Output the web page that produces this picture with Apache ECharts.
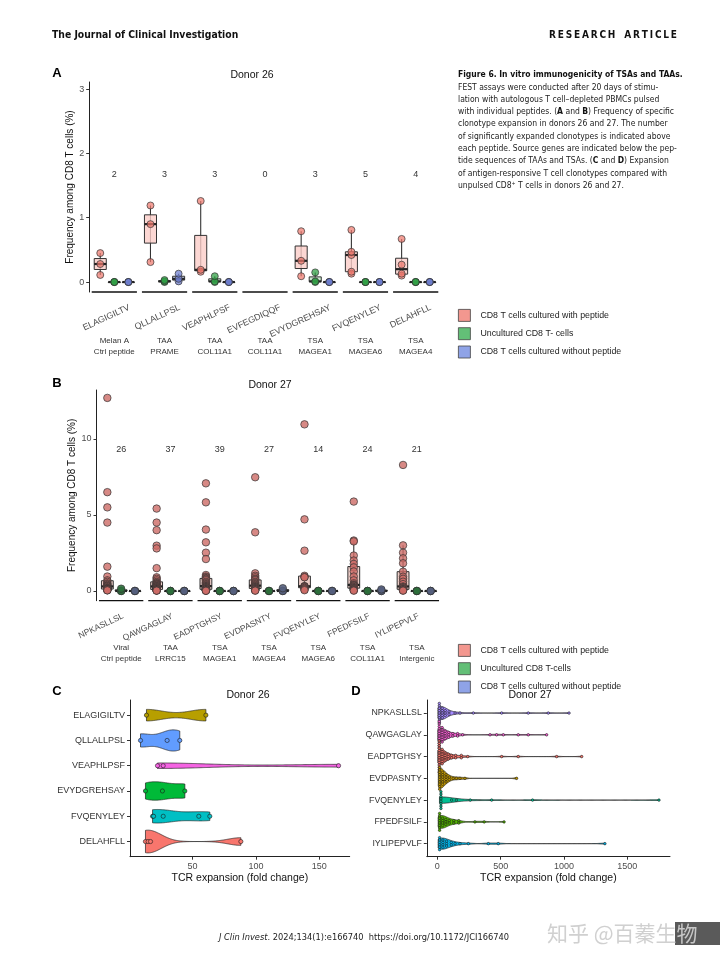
<!DOCTYPE html>
<html><head><meta charset="utf-8">
<script src="https://cdn.jsdelivr.net/npm/echarts@6/dist/echarts.min.js"></script>
<style>html,body{margin:0;padding:0;background:#fff}#c{width:720px;height:964px}</style>
</head><body><div id="c"></div>
<script>
// ===================== DATA =====================
// Panel A (Donor 26)
const peptidesA = ['ELAGIGILTV','QLLALLPSL','VEAPHLPSF','EVFEGDIQQF','EVYDGREHSAY','FVQENYLEY','DELAHFLL'];
const genesA = ['Melan A\nCtrl peptide','TAA\nPRAME','TAA\nCOL11A1','TAA\nCOL11A1','TSA\nMAGEA1','TSA\nMAGEA6','TSA\nMAGEA4'];
const countsA = [2,3,3,0,3,5,4];
const withPeptideA = [[0.11,0.28,0.45],[0.31,0.90,1.19],[0.16,0.19,1.26],[],[0.09,0.33,0.79],[0.13,0.16,0.42,0.47,0.81],[0.10,0.13,0.27,0.67]];
const unculturedA = [[0,0,0],[0,0.01,0.03],[0,0.01,0.09],[],[0,0.01,0.15],[0,0,0],[0,0,0]];
const withoutPeptideA = [[0,0,0],[0.01,0.05,0.13],[0,0,0],[],[0,0,0],[0,0,0],[0,0,0]];
const yTicksA = [0,1,2,3];

// Panel B (Donor 27)
const peptidesB = ['NPKASLLSL','QAWGAGLAY','EADPTGHSY','EVDPASNTY','FVQENYLEY','FPEDFSILF','IYLIPEPVLF'];
const genesB = ['Viral\nCtrl peptide','TAA\nLRRC15','TSA\nMAGEA1','TSA\nMAGEA4','TSA\nMAGEA6','TSA\nCOL11A1','TSA\nIntergenic'];
const countsB = [26,37,39,27,14,24,21];
const withPeptideB = [
  [12.7,6.5,5.5,4.5,1.6,0.95,0.7,0.6,0.5,0.45,0.4,0.35,0.3,0.3,0.25,0.2,0.2,0.15,0.15,0.12,0.1,0.1,0.08,0.06,0.05,0.04],
  [5.42,4.5,4.0,2.98,2.8,1.5,0.9,0.8,0.7,0.6,0.55,0.5,0.48,0.45,0.42,0.4,0.36,0.33,0.3,0.28,0.25,0.22,0.2,0.18,0.16,0.14,0.12,0.1,0.09,0.08,0.07,0.06,0.05,0.05,0.04,0.03,0.02],
  [7.08,5.83,4.04,3.2,2.52,2.1,1.05,0.95,0.9,0.85,0.8,0.75,0.7,0.6,0.55,0.5,0.45,0.4,0.35,0.32,0.3,0.27,0.25,0.22,0.2,0.18,0.16,0.14,0.12,0.1,0.09,0.08,0.07,0.06,0.05,0.04,0.03,0.02,0.01],
  [7.48,3.86,1.16,1.0,0.9,0.8,0.75,0.7,0.6,0.55,0.5,0.45,0.4,0.35,0.3,0.28,0.25,0.22,0.2,0.18,0.15,0.12,0.1,0.08,0.06,0.04,0.02],
  [10.96,4.71,2.65,1.0,0.92,0.9,0.32,0.3,0.28,0.25,0.2,0.15,0.1,0.05],
  [5.88,3.32,3.26,2.33,2.0,1.78,1.55,1.28,0.95,0.7,0.5,0.42,0.38,0.35,0.3,0.26,0.22,0.19,0.17,0.14,0.1,0.08,0.05,0.02],
  [8.29,3.0,2.52,2.15,1.82,1.27,0.94,0.8,0.61,0.45,0.3,0.25,0.22,0.18,0.14,0.11,0.1,0.08,0.06,0.04,0.02]
];
const unculturedB = [[0,0,0.15],[0,0,0],[0,0,0],[0,0,0],[0,0,0],[0,0,0],[0,0,0]];
const withoutPeptideB = [[0,0,0],[0,0,0],[0,0,0],[0,0,0.18],[0,0,0],[0,0,0.1],[0,0,0]];
const yTicksB = [0,5,10];

const legendNamesA = ['CD8 T cells cultured with peptide','Uncultured CD8 T- cells','CD8 T cells cultured without peptide'];
const legendNamesB = ['CD8 T cells cultured with peptide','Uncultured CD8 T-cells','CD8 T cells cultured without peptide'];

// Panel C (Donor 26) TCR expansion fold change
const peptidesC = ['ELAGIGILTV','QLLALLPSL','VEAPHLPSF','EVYDGREHSAY','FVQENYLEY','DELAHFLL'];
const foldC = [[13.6,60.5],[8.9,29.9,39.9],[22.3,26.8,165.2],[12.8,26.2,43.9],[18.4,19.2,26.8,54.9,63.6],[12.8,14.9,16.8,88.1]];
const xTicksC = [50,100,150];

// Panel D (Donor 27)
const peptidesD = ['NPKASLLSL','QAWGAGLAY','EADPTGHSY','EVDPASNTY','FVQENYLEY','FPEDFSILF','IYLIPEPVLF'];
const foldD = [
  [1040,876,718,508,284,179,140,100,85,70,62,55,48,42,38,34,30,27,24,21,18,15,12,10,8,5],
  [863,718,639,521,468,416,200,170,150,130,115,100,90,80,72,65,58,52,48,44,40,36,33,30,28,26,24,22,20,18,16,14,12,10,8,6,4],
  [1140,942,639,508,240,200,179,150,139,120,105,95,85,78,70,64,58,53,48,44,40,37,34,31,28,26,24,22,20,18,16,14,12,11,10,8,7,5,4],
  [626,218,179,150,125,100,90,80,72,65,58,52,47,43,39,35,32,29,26,23,20,18,16,14,12,10,8],
  [1750,752,429,260,150,113,40,30,27,25,23,21,19,17],
  [527,370,297,179,160,140,120,100,88,76,66,58,50,44,38,33,29,25,22,19,16,13,10,7],
  [1323,481,403,245,179,140,120,100,85,72,62,54,47,40,34,29,24,19,15,11,7]
];
const xTicksD = [0,500,1000,1500];

// ===================== STYLE =====================
const FONT = "'Liberation Sans', Arial, sans-serif";
const COND = "'DejaVu Sans Condensed', sans-serif";
const legendFills = ['rgba(240,125,115,0.8)','rgba(60,175,85,0.8)','rgba(115,140,225,0.8)'];
const ptFillsA = ['rgba(238,120,110,0.72)','rgba(50,160,70,0.75)','rgba(110,125,205,0.75)'];
const ptFillsB = ['rgba(205,108,102,0.8)','rgba(45,110,60,0.9)','rgba(85,95,125,0.9)'];
const boxFillsA = ['rgba(251,205,200,0.8)','rgba(190,230,195,0.85)','rgba(200,210,245,0.85)'];
const boxFillsB = ['rgba(225,170,160,0.6)','rgba(190,230,195,0.85)','rgba(200,210,245,0.85)'];
const offs = [-0.28, 0, 0.28];
const BOXW = 0.24;
const colorsC = ['#B79F00','#619CFF','#F564E3','#00BA38','#00BFC4','#F8766D'];
const colorsD = ['#A58AFF','#FB61D7','#F8766D','#C49A00','#00C094','#53B400','#00B6EB'];

// ===================== HELPERS =====================
function quantile(s, p){ const h=(s.length-1)*p, lo=Math.floor(h), hi=Math.ceil(h); return s[lo]+(h-lo)*(s[hi]-s[lo]); }
function boxStats(arr){
  if(!arr.length) return null;
  const s=[...arr].sort((a,b)=>a-b);
  const q1=quantile(s,.25), md=quantile(s,.5), q3=quantile(s,.75), iqr=q3-q1;
  const lo=s.find(v=>v>=q1-1.5*iqr), hi=[...s].reverse().find(v=>v<=q3+1.5*iqr);
  return [lo,q1,md,q3,hi];
}
function bwNrd0(x){
  const n=x.length, m=x.reduce((a,b)=>a+b,0)/n;
  const sd=Math.sqrt(x.reduce((a,b)=>a+(b-m)*(b-m),0)/(n-1));
  const s=[...x].sort((a,b)=>a-b);
  const iqr=quantile(s,.75)-quantile(s,.25);
  let lo=Math.min(sd, iqr/1.34); if(!(lo>0)) lo=sd||1;
  return 0.9*lo*Math.pow(n,-0.2);
}
function kde(x,bw,g){ let s=0; for(const v of x){ const z=(g-v)/bw; s+=Math.exp(-0.5*z*z);} return s/(x.length*bw*Math.sqrt(2*Math.PI)); }

function boxRender(off, fill){
  return function(params, api){
    const f=api.value(0), lo=api.value(1), q1=api.value(2), md=api.value(3), q3=api.value(4), hi=api.value(5);
    const xc=f+0.5+off;
    const a=api.coord([xc-BOXW/2,q3]), b=api.coord([xc+BOXW/2,q1]);
    const pl=api.coord([xc,lo]), ph=api.coord([xc,hi]);
    const ml=api.coord([xc-BOXW/2,md]), mr=api.coord([xc+BOXW/2,md]);
    return {type:'group', children:[
      {type:'line', shape:{x1:pl[0],y1:pl[1],x2:ph[0],y2:ph[1]}, style:{stroke:'#333',lineWidth:1.1}},
      {type:'rect', shape:{x:a[0],y:a[1],width:b[0]-a[0],height:Math.max(b[1]-a[1],0.5)}, style:{fill:fill,stroke:'#333',lineWidth:1}},
      {type:'line', shape:{x1:ml[0],y1:ml[1],x2:mr[0],y2:mr[1]}, style:{stroke:'#222',lineWidth:2.2}}
    ]};
  };
}

function panelSeries(xi, yi, groups, names, counts, countY, yMin, ptSize, ptFills, boxFills){
  const out=[];
  out.push({type:'custom', xAxisIndex:xi, yAxisIndex:yi, silent:true, z:1,
    data: counts.map((c,i)=>[i,0]),
    renderItem:(params, api)=>{
      const i=params.dataIndex;
      const a=api.coord([i+0.05,yMin]), b=api.coord([i+0.95,yMin]), t=api.coord([i+0.5,countY]);
      return {type:'group', children:[
        {type:'line', shape:{x1:a[0],y1:a[1],x2:b[0],y2:b[1]}, style:{stroke:'#111',lineWidth:1.3}},
        {type:'text', x:t[0], y:t[1], style:{text:String(counts[i]), align:'center', verticalAlign:'middle', textAlign:'center', textVerticalAlign:'middle', fill:'#333', font:'9px '+FONT}}
      ]};
    }});
  groups.forEach((g,gi)=>{
    out.push({type:'custom', name:names[gi], xAxisIndex:xi, yAxisIndex:yi, silent:true, z:2,
      itemStyle:{color:legendFills[gi]},
      data: g.map((arr,i)=>{const s=boxStats(arr); return s?[i].concat(s):null;}).filter(Boolean),
      renderItem: boxRender(offs[gi], boxFills[gi])});
  });
  groups.forEach((g,gi)=>{
    out.push({type:'scatter', name:names[gi], xAxisIndex:xi, yAxisIndex:yi, silent:true, z:3,
      symbolSize:ptSize, itemStyle:{color:ptFills[gi], borderColor:'#333', borderWidth:0.7, opacity:1},
      data: g.flatMap((arr,i)=>arr.map(v=>[i+0.5+offs[gi], v]))});
  });
  return out;
}

function violinSeries(xi, yi, data, colors, dotR, binPx, spacing){
  const profs=data.map(arr=>{
    const bw=bwNrd0(arr), mn=Math.min(...arr), mx=Math.max(...arr), xs=[], ds=[];
    const N=200;
    for(let k=0;k<=N;k++){ const x=mn+(mx-mn)*k/N; xs.push(x); ds.push(kde(arr,bw,x)); }
    return {xs,ds};
  });
  const gmax=Math.max(...profs.map(p=>Math.max(...p.ds)));
  return {type:'custom', xAxisIndex:xi, yAxisIndex:yi, silent:true,
    data: data.map((a,i)=>[a[0], i+1]),
    renderItem:(params, api)=>{
      const i=params.dataIndex, yc=i+1, p=profs[i];
      const top=[], bot=[];
      p.xs.forEach((x,k)=>{ const w=0.45*p.ds[k]/gmax; top.push(api.coord([x,yc-w])); bot.push(api.coord([x,yc+w])); });
      const children=[{type:'polygon', shape:{points:top.concat(bot.reverse())}, style:{fill:colors[i], stroke:'#222', lineWidth:0.7}}];
      const s=[...data[i]].sort((a,b)=>a-b);
      const px=s.map(v=>api.coord([v,yc])[0]); const cy=api.coord([s[0],yc])[1];
      let k=0;
      while(k<px.length){
        let j=k; while(j+1<px.length && px[j+1]-px[k]<binPx) j++;
        const c=j-k+1, cx=(px[k]+px[j])/2;
        for(let m=0;m<c;m++){
          const xx = binPx>0 ? cx : px[k+m];
          const yy = binPx>0 ? cy+(m-(c-1)/2)*spacing : cy;
          children.push({type:'circle', shape:{cx:xx, cy:yy, r:dotR}, style:{fill:colors[i], stroke:'#1a1a1a', lineWidth:0.6}});
        }
        k=j+1;
      }
      return {type:'group', children};
    }};
}

// ===================== CHART =====================
const chart = echarts.init(document.getElementById('c'));
const yMinA=-0.155, yMaxA=3.11, yMinB=-0.64, yMaxB=13.22;
const SHIFT_A=0.3, SHIFT_B=0.04;

function hiddenX(grid){ return {type:'value', gridIndex:grid, min:0, max:7, show:false, axisLine:{onZero:false}}; }
function pepX(grid, names, shift, fs){ return {type:'value', gridIndex:grid, min:-shift, max:7-shift, position:'bottom',
  axisLine:{show:false,onZero:false}, axisTick:{show:false}, splitLine:{show:false},
  axisLabel:{customValues:[0.5,1.5,2.5,3.5,4.5,5.5,6.5], formatter:v=>names[Math.round(v-0.5)], rotate:25, margin:15, fontSize:fs, color:'#4D4D4D', fontFamily:FONT}}; }
function geneX(grid, names, margin){ return {type:'category', gridIndex:grid, data:names, position:'bottom',
  axisLine:{show:false,onZero:false}, axisTick:{show:false}, splitLine:{show:false},
  axisLabel:{interval:0, margin:margin, fontSize:8, lineHeight:10.5, color:'#333', fontFamily:FONT}}; }

const axisLineStyle={show:true, onZero:false, lineStyle:{color:'#222', width:1}};
function legendCfg(names, top){
  return {data:names.map((n,i)=>({name:n, itemStyle:{color:legendFills[i], borderColor:'#444', borderWidth:0.8}})),
    orient:'vertical', left:458, top:top, padding:0, itemWidth:12, itemHeight:12, itemGap:5.5, selectedMode:false,
    icon:'rect', textStyle:{fontSize:8.8, color:'#222', fontFamily:FONT, padding:[0,0,0,5]}};
}

const option = {
  animation:false,
  textStyle:{fontFamily:FONT},
  grid:[
    {left:89.2, top:82, width:351.6, height:210},
    {left:96.5, top:390, width:345, height:210.7},
    {left:130, top:700, width:219.7, height:156.7},
    {left:426.8, top:700, width:243.2, height:156.7}
  ],
  xAxis:[
    hiddenX(0), pepX(0, peptidesA, SHIFT_A, 8.8), geneX(0, genesA, 44),
    hiddenX(1), pepX(1, peptidesB, SHIFT_B, 8.5), geneX(1, genesB, 42),
    {type:'value', gridIndex:2, min:0.6, max:174, axisLine:axisLineStyle, splitLine:{show:false},
      axisTick:{show:true, length:3, customValues:xTicksC, lineStyle:{color:'#333'}},
      axisLabel:{customValues:xTicksC, formatter:v=>String(v), margin:5, fontSize:9, color:'#4D4D4D'},
      name:'TCR expansion (fold change)', nameLocation:'middle', nameGap:16, nameTextStyle:{fontSize:10.5, color:'#111'}},
    {type:'value', gridIndex:3, min:-83, max:1837, axisLine:axisLineStyle, splitLine:{show:false},
      axisTick:{show:true, length:3, customValues:xTicksD, lineStyle:{color:'#333'}},
      axisLabel:{customValues:xTicksD, formatter:v=>String(v), margin:5, fontSize:9, color:'#4D4D4D'},
      name:'TCR expansion (fold change)', nameLocation:'middle', nameGap:16, nameTextStyle:{fontSize:10.5, color:'#111'}}
  ],
  yAxis:[
    {type:'value', gridIndex:0, min:yMinA, max:yMaxA, axisLine:axisLineStyle, splitLine:{show:false},
      axisTick:{show:true, length:3, customValues:yTicksA, lineStyle:{color:'#333'}},
      axisLabel:{customValues:yTicksA, margin:5, fontSize:9, color:'#4D4D4D'},
      name:'Frequency among CD8 T cells (%)', nameLocation:'middle', nameGap:11, nameTextStyle:{fontSize:10, color:'#111'}},
    {type:'value', gridIndex:1, min:yMinB, max:yMaxB, axisLine:axisLineStyle, splitLine:{show:false},
      axisTick:{show:true, length:3, customValues:yTicksB, lineStyle:{color:'#333'}},
      axisLabel:{customValues:yTicksB, margin:5, fontSize:9, color:'#4D4D4D'},
      name:'Frequency among CD8 T cells (%)', nameLocation:'middle', nameGap:18, nameTextStyle:{fontSize:10, color:'#111'}},
    {type:'value', gridIndex:2, inverse:true, min:0.4, max:6.6, axisLine:axisLineStyle, splitLine:{show:false},
      axisTick:{show:true, length:3, customValues:[1,2,3,4,5,6], lineStyle:{color:'#333'}},
      axisLabel:{customValues:[1,2,3,4,5,6], formatter:v=>peptidesC[Math.round(v)-1], margin:5, fontSize:9, color:'#333'}},
    {type:'value', gridIndex:3, inverse:true, min:0.4, max:7.6, axisLine:axisLineStyle, splitLine:{show:false},
      axisTick:{show:true, length:3, customValues:[1,2,3,4,5,6,7], lineStyle:{color:'#333'}},
      axisLabel:{customValues:[1,2,3,4,5,6,7], formatter:v=>peptidesD[Math.round(v)-1], margin:5, fontSize:8.8, color:'#333'}}
  ],
  legend:[ legendCfg(legendNamesA, 309), legendCfg(legendNamesB, 644) ],
  series:[]
    .concat(panelSeries(0,0,[withPeptideA,unculturedA,withoutPeptideA],legendNamesA,countsA,1.67,yMinA,7,ptFillsA,boxFillsA))
    .concat(panelSeries(3,1,[withPeptideB,unculturedB,withoutPeptideB],legendNamesB,countsB,9.28,yMinB,7.5,ptFillsB,boxFillsB))
    .concat([violinSeries(6,2,foldC,colorsC,2.1,0,0), violinSeries(7,3,foldD,colorsD,1.25,3,2.4)]),
  graphic:{elements:[]}
};

// text elements
const G = option.graphic.elements;
function txt(x,y,text,font,fill,align){ G.push({type:'text', x:x, y:y, silent:true,
  style:{text:text, font:font, fill:fill||'#111', align:align||'left', verticalAlign:'middle', textAlign:align||'left', textVerticalAlign:'middle'}}); }
txt(52,35,'The Journal of Clinical Investigation','bold 10.3px '+COND,'#111');
txt(677,35,'R\u2009E\u2009S\u2009E\u2009A\u2009R\u2009C\u2009H\u2003A\u2009R\u2009T\u2009I\u2009C\u2009L\u2009E','bold 10px '+COND,'#111','right');
txt(57,73,'A','bold 13px '+FONT,'#000','center');
txt(57,383,'B','bold 13px '+FONT,'#000','center');
txt(57,691,'C','bold 13px '+FONT,'#000','center');
txt(356,691,'D','bold 13px '+FONT,'#000','center');
txt(252,75,'Donor 26','10.5px '+FONT,'#111','center');
txt(270,385,'Donor 27','10.5px '+FONT,'#111','center');
txt(248,695,'Donor 26','10.5px '+FONT,'#111','center');
txt(530,695,'Donor 27','10.5px '+FONT,'#111','center');

const captionLines = [
 '{b|Figure 6. In vitro immunogenicity of TSAs and TAAs.}',
 'FEST assays were conducted after 20 days of stimu-',
 'lation with autologous T cell\u2013depleted PBMCs pulsed',
 'with individual peptides. ({b|A} and {b|B}) Frequency of specific',
 'clonotype expansion in donors 26 and 27. The number',
 'of significantly expanded clonotypes is indicated above',
 'each peptide. Source genes are indicated below the pep-',
 'tide sequences of TAAs and TSAs. ({b|C} and {b|D}) Expansion',
 'of antigen-responsive T cell clonotypes compared with',
 'unpulsed CD8\u207A T cells in donors 26 and 27.'
];
captionLines.forEach((l,i)=>{
  G.push({type:'text', x:458, y:75+12.3*i, silent:true, style:{text:l, fontFamily:COND, fontSize:8.5, fill:'#222',
    verticalAlign:'middle', textVerticalAlign:'middle',
    rich:{b:{fontFamily:COND, fontSize:8.5, fontWeight:'bold', fill:'#111'}}}});
});

G.push({type:'text', x:219, y:938, silent:true, style:{text:'{i|J Clin Invest}. 2024;134(1):e166740  https://doi.org/10.1172/JCI166740',
  fontFamily:COND, fontSize:9.2, fill:'#222', verticalAlign:'middle', textVerticalAlign:'middle',
  rich:{i:{fontFamily:COND, fontSize:9.2, fontStyle:'italic', fill:'#222'}}}});
G.push({type:'rect', shape:{x:675, y:922, width:45, height:23}, style:{fill:'#5a5a5a'}, silent:true});
txt(547,933,'\u77E5\u4E4E @\u767E\u84C1\u751F\u7269',"21px 'Noto Sans CJK SC', sans-serif",'rgba(205,205,205,0.95)','left');

chart.setOption(option);
</script>
</body></html>
